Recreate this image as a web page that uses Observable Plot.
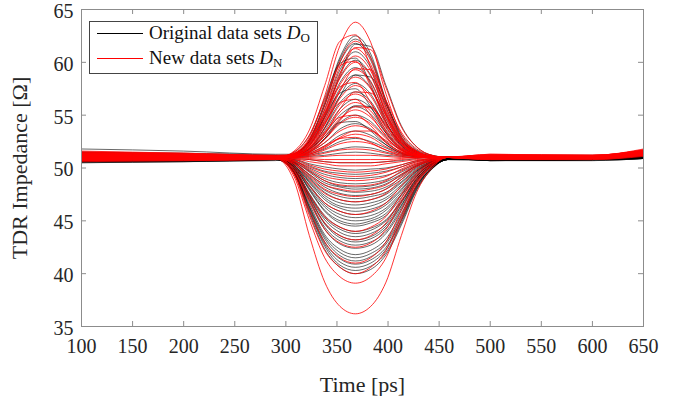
<!DOCTYPE html>
<html><head><meta charset="utf-8">
<script src="https://cdn.jsdelivr.net/npm/d3@7"></script>
<script src="https://cdn.jsdelivr.net/npm/@observablehq/plot@0.6"></script>
<style>
body{margin:0;background:#fff;}
#wrap{position:relative;width:676px;height:396px;font-family:"Liberation Serif","Times New Roman",serif;}
#legend{position:absolute;left:89px;top:21px;width:227px;height:51px;border:1px solid #444;background:#fff;}
.row{position:absolute;left:7px;height:22px;display:flex;align-items:center;font-size:19px;color:#111;white-space:nowrap;}
.sw{display:inline-block;width:46px;height:0;border-top:1.3px solid;margin-right:6px;}
.sub{font-size:13px;position:relative;top:5px;font-style:normal;}
</style></head>
<body><div id="wrap"><div id="chart"></div>
<div id="legend">
  <div class="row" style="top:0px"><span class="sw" style="border-color:#000"></span>Original data sets&nbsp;<i>D</i><span class="sub">O</span></div>
  <div class="row" style="top:25px"><span class="sw" style="border-color:#f00"></span>New data sets&nbsp;<i>D</i><span class="sub">N</span></div>
</div></div>
<script>
const times = [100, 200, 290, 308, 323, 338, 353, 368, 383, 398, 413, 428, 443, 458, 500, 600, 650];
const xTicks = [100,150,200,250,300,350,400,450,500,550,600,650];
const yTicks = [35,40,45,50,55,60,65];

const originalCurves = [
[51.8,51.6,51.3, 51.3,52.7,56.2,60.5,62.5,60.8,56.4,53.0,51.6,51.1,51.0, 51.0,51.0,51.3],
[50.9,50.9,50.9, 51.3,52.7,56.0,60.3,62.2,60.5,56.3,52.9,51.6,51.1,51.0, 50.9,50.9,51.1],
[51.2,51.1,51.0, 51.3,52.6,55.9,60.0,61.8,60.2,56.1,52.8,51.5,51.1,51.0, 51.0,51.0,51.2],
[50.5,50.6,50.8, 51.3,52.5,55.5,59.3,61.0,59.5,55.7,52.7,51.5,51.1,51.0, 50.8,50.8,51.0],
[51.0,51.0,51.0, 51.3,52.4,55.1,58.6,60.2,58.8,55.3,52.6,51.5,51.1,51.0, 51.0,50.9,51.1],
[51.4,51.3,51.1, 51.3,52.3,54.8,58.1,59.5,58.2,55.0,52.5,51.4,51.1,51.0, 51.1,51.0,51.3],
[50.7,50.7,50.8, 51.2,52.2,54.5,57.5,58.8,57.6,54.7,52.3,51.4,51.1,51.0, 50.8,50.8,51.0],
[51.1,51.1,51.0, 51.2,52.1,54.2,56.8,58.0,57.0,54.3,52.2,51.4,51.1,51.0, 51.0,51.0,51.2],
[50.6,50.7,50.8, 51.2,51.9,53.8,56.2,57.2,56.3,53.9,52.1,51.3,51.1,51.0, 50.7,50.8,50.9],
[51.3,51.2,51.1, 51.2,51.8,53.5,55.6,56.5,55.7,53.6,51.9,51.3,51.1,51.0, 51.1,51.1,51.3],
[50.9,50.9,50.9, 51.1,51.7,53.2,55.0,55.8,55.1,53.3,51.8,51.2,51.1,51.0, 50.9,50.9,51.0],
[51.2,51.1,51.0, 51.1,51.6,52.8,54.3,55.0,54.4,52.9,51.7,51.2,51.0,51.0, 51.0,51.0,51.2],
[50.5,50.6,50.7, 51.1,51.5,52.4,53.7,54.2,53.7,52.5,51.5,51.2,51.0,51.0, 50.7,50.7,50.9],
[51.5,51.4,51.2, 51.1,51.4,52.1,53.1,53.5,53.1,52.2,51.4,51.1,51.0,51.0, 51.2,51.2,51.4],
[51.0,51.0,50.9, 51.1,51.3,51.8,52.5,52.8,52.5,51.9,51.3,51.1,51.0,51.0, 50.9,50.9,51.1],
[50.8,50.8,50.9, 51.0,51.2,51.5,51.8,52.0,51.9,51.5,51.2,51.1,51.0,51.0, 50.8,50.9,51.0],
[51.3,51.2,51.0, 51.0,51.1,51.2,51.4,51.5,51.4,51.2,51.1,51.0,51.0,51.0, 51.1,51.0,51.2],
[51.1,51.0,51.0, 50.9,50.8,50.6,50.5,50.5,50.5,50.6,50.7,50.9,51.0,51.0, 51.0,51.0,51.1],
[50.6,50.6,50.8, 50.8,50.4,50.1,49.9,49.8,49.9,50.0,50.3,50.7,50.9,51.0, 50.7,50.7,50.9],
[51.4,51.3,51.1, 50.7,50.0,49.4,49.1,49.0,49.1,49.3,49.8,50.4,50.8,51.0, 51.1,51.1,51.3],
[50.9,50.8,50.8, 50.7,49.8,49.0,48.6,48.5,48.6,48.9,49.6,50.3,50.8,51.0, 50.8,50.8,51.0],
[51.2,51.1,51.0, 50.6,49.6,48.6,48.2,48.0,48.1,48.5,49.3,50.2,50.7,50.9, 51.0,51.0,51.2],
[50.7,50.7,50.8, 50.5,49.3,48.2,47.6,47.4,47.5,48.0,48.9,50.0,50.6,50.9, 50.8,50.8,50.9],
[51.0,51.0,50.9, 50.4,49.0,47.7,47.0,46.8,47.0,47.5,48.6,49.8,50.6,50.9, 50.9,50.9,51.1],
[51.5,51.3,51.1, 50.3,48.7,47.2,46.4,46.2,46.4,47.0,48.2,49.7,50.5,50.9, 51.1,51.1,51.3],
[50.8,50.8,50.9, 50.2,48.4,46.7,45.9,45.6,45.8,46.5,47.9,49.5,50.5,50.9, 50.8,50.9,51.0],
[51.2,51.1,51.0, 50.2,48.1,46.3,45.3,45.0,45.2,46.0,47.5,49.3,50.4,50.9, 51.0,51.0,51.2],
[50.6,50.7,50.8, 50.1,47.9,45.9,44.8,44.5,44.8,45.5,47.2,49.2,50.4,50.9, 50.7,50.8,50.9],
[51.3,51.2,51.0, 50.0,47.6,45.5,44.4,44.0,44.3,45.1,46.9,49.0,50.3,50.9, 51.1,51.0,51.2],
[50.9,50.9,50.9, 50.0,47.4,45.1,43.9,43.5,43.8,44.7,46.7,48.9,50.3,50.9, 50.9,50.9,51.0],
[51.1,51.1,51.0, 49.9,47.2,44.7,43.4,43.0,43.3,44.3,46.4,48.8,50.2,50.8, 51.0,51.0,51.1],
[50.7,50.7,50.8, 49.8,46.9,44.2,42.8,42.4,42.7,43.8,46.0,48.6,50.1,50.8, 50.7,50.8,50.9],
[51.4,51.2,51.1, 49.7,46.6,43.7,42.3,41.8,42.2,43.3,45.7,48.4,50.1,50.8, 51.1,51.0,51.2],
[51.0,51.0,50.9, 49.6,46.3,43.3,41.7,41.2,41.6,42.8,45.3,48.3,50.0,50.8, 50.9,50.9,51.1],
[50.8,50.8,50.8, 49.5,46.0,42.8,41.1,40.6,41.0,42.3,45.0,48.1,50.0,50.8, 50.8,50.8,51.0],
[51.2,51.1,51.0, 49.5,45.7,42.3,40.6,40.0,40.4,41.8,44.6,47.9,49.9,50.8, 51.0,51.0,51.2],
[51.0,50.9,50.9, 51.2,52.1,54.9,58.9,61.7,61.5,57.8,54.0,52.0,51.2,51.0, 50.9,50.9,51.1],
[51.3,51.2,51.0, 51.5,53.1,56.6,59.9,60.4,57.9,54.4,52.1,51.3,51.1,51.0, 51.0,51.0,51.2],
[50.8,50.8,50.9, 51.2,51.8,53.8,56.8,58.8,58.6,56.0,53.2,51.7,51.2,51.0, 50.8,50.8,51.0],
[51.1,51.0,51.0, 51.3,52.5,54.8,57.1,57.5,55.8,53.3,51.7,51.2,51.1,51.0, 51.0,51.0,51.1],
[51.2,51.1,51.0, 51.1,51.5,52.8,54.6,55.9,55.8,54.1,52.4,51.5,51.1,51.0, 51.0,51.0,51.2],
[50.7,50.7,50.8, 51.2,51.8,53.0,54.3,54.4,53.5,52.2,51.4,51.1,51.0,51.0, 50.8,50.8,50.9],
[51.2,51.1,51.0, 50.8,50.2,49.7,49.5,49.4,49.5,49.7,50.1,50.6,50.8,51.0, 51.0,51.0,51.2],
[50.9,50.9,50.9, 50.6,49.7,48.8,48.3,48.2,48.3,48.7,49.4,50.2,50.7,50.9, 50.9,50.9,51.1],
[51.3,51.2,51.1, 50.5,49.4,48.4,47.9,47.7,47.8,48.2,49.1,50.1,50.7,50.9, 51.1,51.1,51.3],
[50.6,50.7,50.8, 50.5,49.1,47.9,47.3,47.1,47.3,47.7,48.7,49.9,50.6,50.9, 50.7,50.8,50.9],
[51.1,51.0,51.0, 50.4,48.8,47.4,46.7,46.5,46.7,47.2,48.4,49.7,50.6,50.9, 51.0,51.0,51.2],
[51.4,51.3,51.1, 50.3,48.6,47.0,46.2,45.9,46.1,46.7,48.0,49.6,50.5,50.9, 51.1,51.1,51.3],
[50.8,50.8,50.8, 50.2,48.3,46.5,45.6,45.3,45.5,46.2,47.7,49.4,50.4,50.9, 50.8,50.8,51.0],
[51.2,51.1,51.0, 50.1,48.0,46.0,45.0,44.7,45.0,45.7,47.4,49.2,50.4,50.9, 51.0,51.0,51.2],
[50.9,50.9,50.9, 50.0,47.5,45.3,44.2,43.8,44.1,45.0,46.8,49.0,50.3,50.9, 50.9,50.9,51.1],
[51.3,51.2,51.0, 49.9,47.3,44.8,43.6,43.2,43.5,44.5,46.5,48.8,50.2,50.8, 51.0,51.0,51.2],
[50.7,50.8,50.8, 49.8,47.0,44.4,43.1,42.7,43.0,44.0,46.2,48.7,50.2,50.8, 50.8,50.8,51.0],
[51.1,51.0,51.0, 49.7,46.4,43.5,42.0,41.5,41.9,43.0,45.5,48.3,50.0,50.8, 51.0,51.0,51.1],
[51.3,51.2,51.1, 49.6,46.2,43.0,41.4,40.9,41.3,42.5,45.1,48.2,50.0,50.8, 51.1,51.0,51.2],
[50.8,50.8,50.9, 49.5,45.9,42.6,40.8,40.3,40.7,42.0,44.8,48.0,49.9,50.8, 50.8,50.9,51.0]
];

const newCurves = [
[51.2,51.1,51.0, 51.4,52.9,56.8,61.6,63.8,61.9,57.0,53.2,51.6,51.1,51.0, 51.1,51.0,51.4],
[50.9,50.9,50.8, 51.3,52.7,56.0,60.1,62.0,60.4,56.2,52.9,51.6,51.1,51.0, 51.0,50.9,51.3],
[51.4,51.3,51.1, 51.3,52.6,55.6,59.6,61.3,59.8,55.8,52.8,51.5,51.1,51.0, 51.2,51.1,51.6],
[50.7,50.8,50.9, 51.3,52.4,55.3,59.0,60.6,59.2,55.5,52.6,51.5,51.1,51.0, 50.9,50.9,51.2],
[51.1,51.0,51.0, 51.3,52.4,55.1,58.5,60.0,58.7,55.2,52.5,51.5,51.1,51.0, 51.0,51.0,51.5],
[51.5,51.4,51.2, 51.3,52.3,54.7,57.9,59.3,58.1,54.9,52.4,51.4,51.1,51.0, 51.3,51.2,51.7],
[50.8,50.7,50.9, 51.2,52.1,54.4,57.3,58.6,57.5,54.6,52.3,51.4,51.1,51.0, 50.8,50.9,51.2],
[51.3,51.2,51.1, 51.2,52.0,54.1,56.6,57.8,56.8,54.2,52.2,51.3,51.1,51.0, 51.1,51.1,51.6],
[51.0,51.0,50.9, 51.2,51.9,53.7,56.0,57.0,56.1,53.8,52.0,51.3,51.1,51.0, 51.0,50.9,51.3],
[51.6,51.4,51.2, 51.2,51.8,53.3,55.3,56.2,55.4,53.4,51.9,51.3,51.1,51.0, 51.2,51.2,51.8],
[50.9,50.9,51.0, 51.1,51.7,53.0,54.7,55.5,54.8,53.1,51.8,51.2,51.0,51.0, 50.9,51.0,51.4],
[51.2,51.1,51.0, 51.1,51.6,52.7,54.2,54.8,54.2,52.8,51.7,51.2,51.0,51.0, 51.1,51.0,51.5],
[50.6,50.7,50.8, 51.1,51.5,52.4,53.5,54.0,53.6,52.4,51.5,51.2,51.0,51.0, 50.8,50.8,51.1],
[51.4,51.3,51.1, 51.1,51.3,52.0,52.8,53.2,52.9,52.0,51.4,51.1,51.0,51.0, 51.3,51.2,51.7],
[51.0,50.9,50.9, 51.1,51.2,51.7,52.3,52.5,52.3,51.7,51.3,51.1,51.0,51.0, 51.0,51.0,51.4],
[51.1,51.2,51.0, 51.0,51.1,51.4,51.7,51.8,51.7,51.4,51.1,51.0,51.0,51.0, 51.1,51.1,51.5],
[50.8,50.8,50.9, 51.0,51.0,51.1,51.2,51.2,51.2,51.1,51.0,51.0,51.0,51.0, 50.9,50.9,51.3],
[51.3,51.2,51.1, 51.0,50.9,50.8,50.8,50.8,50.8,50.8,50.9,51.0,51.0,51.0, 51.2,51.1,51.6],
[51.0,51.0,51.0, 50.9,50.6,50.4,50.2,50.2,50.2,50.4,50.6,50.8,50.9,51.0, 51.0,51.0,51.4],
[50.7,50.8,50.8, 50.8,50.3,49.9,49.7,49.6,49.7,49.9,50.3,50.7,50.9,51.0, 50.8,50.8,51.2],
[51.2,51.1,51.0, 50.7,49.9,49.2,48.9,48.8,48.9,49.2,49.9,50.5,50.9,51.0, 51.1,51.0,51.5],
[51.5,51.3,51.1, 50.5,49.4,48.4,48.0,47.8,48.0,48.4,49.4,50.3,50.8,51.0, 51.2,51.2,51.7],
[50.9,50.9,50.9, 50.4,48.9,47.6,47.0,46.8,47.0,47.6,48.9,50.1,50.7,51.0, 50.9,50.9,51.3],
[51.1,51.0,51.0, 50.2,48.3,46.7,45.9,45.6,45.9,46.7,48.3,49.8,50.6,51.0, 51.0,51.0,51.4],
[51.0,50.9,50.9, 50.0,47.5,45.4,44.4,44.0,44.4,45.4,47.5,49.5,50.5,51.0, 50.9,51.0,51.3],
[51.3,51.2,51.1, 49.7,46.8,44.2,42.9,42.5,42.9,44.2,46.8,49.1,50.4,51.0, 51.1,51.1,51.6],
[50.8,50.8,50.9, 49.5,46.0,43.0,41.5,41.0,41.5,43.0,46.0,48.8,50.3,51.0, 50.9,50.9,51.2],
[51.1,51.0,51.0, 49.2,45.1,41.5,39.7,39.1,39.7,41.5,45.1,48.4,50.2,51.0, 51.0,51.0,51.4],
[51.0,51.0,50.9, 48.8,43.6,39.2,36.9,36.2,36.9,39.2,43.6,47.7,50.0,51.0, 51.0,50.9,51.3],
[51.0,51.0,50.9, 51.6,53.6,57.8,62.0,62.6,59.5,55.1,52.3,51.4,51.1,51.0, 51.0,51.0,51.4],
[51.2,51.2,51.1, 51.2,52.1,54.8,58.7,61.4,61.2,57.6,53.9,52.0,51.2,51.0, 51.1,51.1,51.5],
[50.8,50.9,50.9, 51.5,53.1,56.4,59.7,60.1,57.7,54.3,52.0,51.3,51.1,51.0, 50.9,50.9,51.3],
[51.3,51.2,51.0, 51.2,51.9,54.1,57.3,59.4,59.3,56.4,53.4,51.8,51.2,51.0, 51.2,51.1,51.6],
[51.0,51.1,51.0, 51.4,52.6,55.2,57.7,58.1,56.2,53.5,51.8,51.2,51.1,51.0, 51.0,51.0,51.5],
[50.7,50.8,50.9, 51.1,51.6,53.2,55.6,57.2,57.1,55.0,52.7,51.6,51.1,51.0, 50.9,50.9,51.3],
[51.4,51.3,51.1, 51.3,52.2,54.3,56.2,56.5,55.0,53.0,51.6,51.2,51.1,51.0, 51.2,51.1,51.6],
[51.1,51.0,51.0, 51.1,51.5,52.7,54.5,55.8,55.7,54.0,52.3,51.4,51.1,51.0, 51.0,51.0,51.4],
[50.9,50.9,51.0, 51.2,51.9,53.4,54.8,55.0,54.0,52.4,51.5,51.1,51.0,51.0, 50.9,51.0,51.4],
[51.2,51.1,51.0, 51.1,51.3,51.9,52.9,53.5,53.5,52.6,51.7,51.2,51.1,51.0, 51.1,51.1,51.5],
[51.3,51.2,51.1, 51.1,51.4,52.1,52.8,52.9,52.4,51.7,51.2,51.1,51.0,51.0, 51.2,51.1,51.6],
[51.0,51.1,51.0, 50.9,50.8,50.6,50.5,50.5,50.5,50.6,50.8,50.9,51.0,51.0, 51.0,51.0,51.5],
[51.4,51.3,51.1, 50.7,50.1,49.6,49.3,49.2,49.3,49.6,50.1,50.6,50.9,51.0, 51.2,51.2,51.7],
[50.8,50.8,50.9, 50.6,49.7,48.8,48.4,48.3,48.4,48.8,49.7,50.4,50.8,51.0, 50.9,50.9,51.3],
[51.2,51.1,51.0, 50.4,49.2,48.0,47.5,47.3,47.5,48.0,49.2,50.2,50.7,51.0, 51.1,51.0,51.5],
[51.0,51.0,51.0, 49.8,47.1,44.8,43.6,43.2,43.6,44.8,47.1,49.3,50.5,51.0, 51.0,51.0,51.4],
[51.1,51.0,50.9, 49.4,45.5,42.2,40.6,40.0,40.6,42.2,45.5,48.6,50.2,51.0, 51.0,51.0,51.3]
];

function toRows(curves, prefix) {
  const out = [];
  curves.forEach((c, i) => c.forEach((v, j) => out.push({id: prefix + i, t: times[j], v})));
  return out;
}
const origRows = toRows(originalCurves, "O");
const newRows = toRows(newCurves, "N");

const axisGray = "#8c8c8c";
const chart = Plot.plot({
  width: 676, height: 396,
  marginLeft: 81, marginRight: 33, marginTop: 9, marginBottom: 70,
  style: {fontFamily: "'Liberation Serif','Times New Roman',serif", background: "#fff", color: "#262626"},
  x: {domain: [100, 650]},
  y: {domain: [35, 65]},
  marks: [
    Plot.line(origRows, {x: "t", y: "v", z: "id", stroke: "#000", strokeWidth: 0.7, strokeOpacity: 0.85, curve: "monotone-x"}),
    Plot.line(newRows, {x: "t", y: "v", z: "id", stroke: "#f00", strokeWidth: 0.8, curve: "monotone-x"}),
    Plot.frame({stroke: axisGray}),
    Plot.tickX(xTicks, {x: d => d, insetTop: 312, stroke: axisGray}),
    Plot.tickX(xTicks, {x: d => d, insetBottom: 312, stroke: axisGray}),
    Plot.tickY(yTicks, {y: d => d, insetRight: 557, stroke: axisGray}),
    Plot.tickY(yTicks, {y: d => d, insetLeft: 557, stroke: axisGray}),
    Plot.axisX({ticks: xTicks, tickSize: 0, tickPadding: 12, fontSize: 20, label: null}),
    Plot.axisY({ticks: yTicks, tickSize: 0, tickPadding: 8, fontSize: 20, dy: 2, label: null}),
    Plot.axisX({ticks: xTicks, tickSize: 0, tickFormat: () => "", label: "Time [ps]", labelAnchor: "center", labelArrow: "none", labelOffset: 65, fontSize: 22}),
    Plot.axisY({ticks: yTicks, tickSize: 0, tickFormat: () => "", label: "TDR Impedance [Ω]", labelAnchor: "center", labelArrow: "none", labelOffset: 70, fontSize: 22})
  ]
});
document.getElementById("chart").appendChild(chart);
</script>
</body></html>
